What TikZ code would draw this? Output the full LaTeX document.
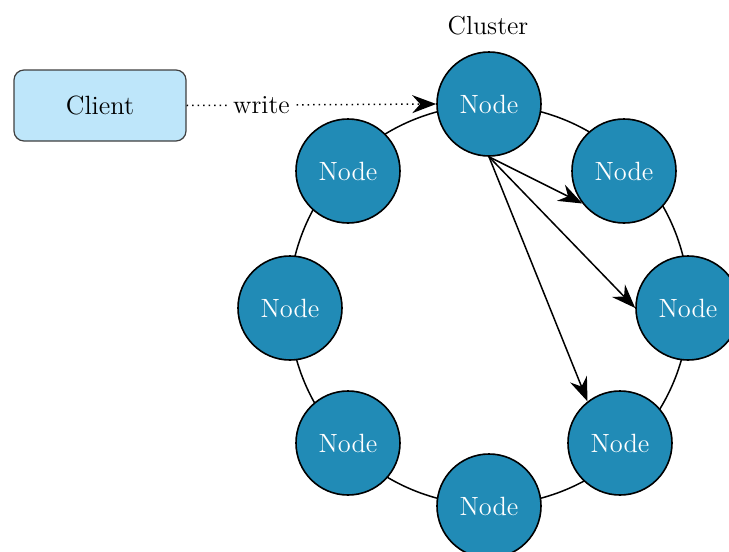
\documentclass[tikz,border=0pt]{standalone}
\usetikzlibrary{arrows.meta}
\definecolor{nodeblue}{RGB}{33,139,182}
\definecolor{clientblue}{RGB}{190,230,250}
\begin{document}
\begin{tikzpicture}[x=0.5pt,y=-0.5pt,
  ringnode/.style={circle,draw=black,line width=0.8pt,fill=nodeblue,minimum size=52pt,inner sep=0pt,text=white,font=\fontsize{13.2}{15}\selectfont},
  clientbox/.style={rectangle,rounded corners=5pt,draw=black!75,line width=0.6pt,fill=clientblue,minimum width=86pt,minimum height=35.5pt,font=\fontsize{13.2}{15}\selectfont},
  conn/.style={line width=0.75pt,-{Stealth[length=12pt,width=9pt,inset=4pt]}},
  lbl/.style={font=\fontsize{13}{15}\selectfont}]
\useasboundingbox (0,0) rectangle (729,552);
\coordinate (c) at (489,305);
\draw[line width=0.75pt] (c) circle[radius=100pt];
\node[ringnode] (n0) at (489,104) {Node};
\node[ringnode] (n1) at (624,171) {Node};
\node[ringnode] (n2) at (688,308) {Node};
\node[ringnode] (n3) at (620,443) {Node};
\node[ringnode] (n4) at (489,506) {Node};
\node[ringnode] (n5) at (348,443) {Node};
\node[ringnode] (n6) at (290,308) {Node};
\node[ringnode] (n7) at (348,171) {Node};
\node[clientbox] (cl) at (100,105.5) {Client};
\node[lbl] (clu) at (488,26) {Cluster};
\draw[conn,dotted] (cl.east) -- node[fill=white,inner sep=3pt,lbl,pos=0.3] {write} (n0.west);
\draw[conn] (n0.south) -- (n1.218);
\draw[conn] (n0.south) -- (n2.west);
\draw[conn] (n0.south) -- (n3.128);
\end{tikzpicture}
\end{document}
